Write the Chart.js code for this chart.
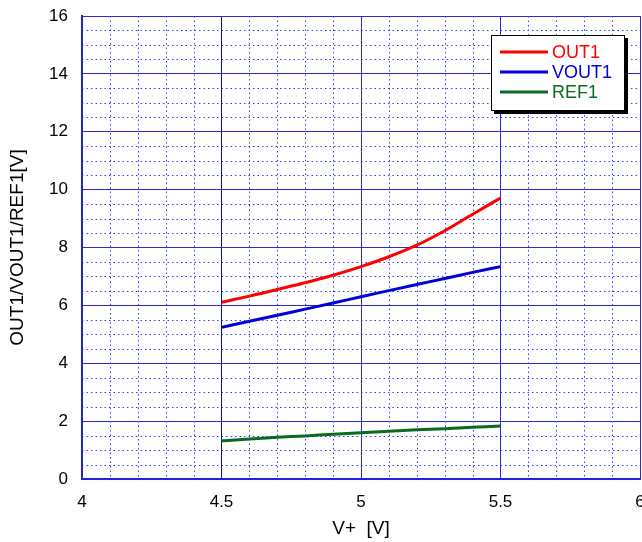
<!DOCTYPE html>
<html>
<head>
<meta charset="utf-8">
<script src="https://cdn.jsdelivr.net/npm/chart.js@4"></script>
<style>
  html, body { margin: 0; padding: 0; background: #fff; overflow: hidden; }
  #wrap { width: 642px; height: 542px; }
</style>
</head>
<body>
<div id="wrap"><canvas id="chart" width="642" height="542"></canvas></div>
<script>
// V+ sweep and the three outputs
const vPlus = [4.5, 4.6, 4.7, 4.8, 4.9, 5.0, 5.1, 5.2, 5.3, 5.4, 5.5];
const out1  = [6.11, 6.32, 6.55, 6.78, 7.04, 7.34, 7.68, 8.08, 8.58, 9.15, 9.71];
const vout1 = [5.24, 5.45, 5.66, 5.87, 6.08, 6.30, 6.51, 6.72, 6.93, 7.14, 7.34];
const ref1  = [1.32, 1.38, 1.44, 1.49, 1.55, 1.60, 1.65, 1.70, 1.74, 1.79, 1.83];

const seriesNames = ['OUT1', 'VOUT1', 'REF1'];
const seriesColors = ['#ff0000', '#0000d8', '#0b6a1e'];

const FONT = 'Liberation Sans, Arial, sans-serif';

function toPoints(ys) {
  return vPlus.map((x, i) => ({ x: x, y: ys[i] }));
}

// dotted minor grid (0.1 V in x, 0.5 V in y)
const minorGrid = {
  id: 'minorGrid',
  beforeDatasetsDraw(chart) {
    const { ctx, chartArea: a, scales: { x, y } } = chart;
    ctx.save();
    ctx.strokeStyle = '#3a3aee';
    ctx.lineWidth = 1;
    ctx.setLineDash([1.5, 3]);
    for (let i = 1; i < 20; i++) {
      if (i % 5 === 0) continue;
      const px = Math.round(x.getPixelForValue(4 + i / 10)) + 0.5;
      ctx.beginPath();
      ctx.moveTo(px, a.top);
      ctx.lineTo(px, a.bottom);
      ctx.stroke();
    }
    for (let j = 1; j < 32; j++) {
      if (j % 4 === 0) continue;
      const py = Math.round(y.getPixelForValue(j / 2)) + 0.5;
      ctx.beginPath();
      ctx.moveTo(a.left, py);
      ctx.lineTo(a.right, py);
      ctx.stroke();
    }
    ctx.restore();
  }
};

// boxed legend with drop shadow, text in series colour
const boxLegend = {
  id: 'boxLegend',
  afterDatasetsDraw(chart) {
    const { ctx, chartArea: a } = chart;
    const w = 134, h = 76;
    const bx = a.right - 15 - w, by = a.top + 19;
    ctx.save();
    ctx.fillStyle = '#000';
    ctx.fillRect(bx + 3, by + 3, w, h);
    ctx.fillStyle = '#fff';
    ctx.fillRect(bx, by, w, h);
    ctx.strokeStyle = '#000';
    ctx.lineWidth = 1;
    ctx.strokeRect(bx + 0.5, by + 0.5, w - 1, h - 1);
    ctx.font = '18px ' + FONT;
    ctx.textBaseline = 'middle';
    chart.data.datasets.forEach((ds, i) => {
      const ly = by + 17 + i * 20;
      ctx.strokeStyle = ds.borderColor;
      ctx.lineWidth = 3;
      ctx.beginPath();
      ctx.moveTo(bx + 9, ly);
      ctx.lineTo(bx + 57, ly);
      ctx.stroke();
      ctx.fillStyle = ds.borderColor;
      ctx.fillText(ds.label, bx + 61, ly + 1);
    });
    ctx.restore();
  }
};

new Chart(document.getElementById('chart').getContext('2d'), {
  type: 'scatter',
  data: {
    datasets: [out1, vout1, ref1].map((ys, i) => ({
      label: seriesNames[i],
      data: toPoints(ys),
      showLine: true,
      borderColor: seriesColors[i],
      backgroundColor: seriesColors[i],
      borderWidth: 3,
      pointRadius: 0,
      cubicInterpolationMode: 'monotone'
    }))
  },
  options: {
    responsive: false,
    animation: false,
    layout: { padding: { top: 16, right: 2, left: 0, bottom: 0 } },
    plugins: {
      legend: { display: false },
      tooltip: { enabled: false }
    },
    scales: {
      x: {
        type: 'linear',
        min: 4,
        max: 6,
        ticks: {
          stepSize: 0.5,
          color: '#000',
          padding: 13,
          font: { family: FONT, size: 17 },
          callback: (v) => String(Number(v.toFixed(1)))
        },
        grid: {
          color: (c) => c.tick && c.tick.value === 4.5 ? '#10108a' : '#2a2ad0',
          lineWidth: 1,
          drawTicks: false
        },
        border: { color: '#2222dd', width: 2 },
        title: {
          display: true,
          text: 'V+  [V]',
          color: '#000',
          font: { family: FONT, size: 19 },
          padding: { top: 0, bottom: 2 }
        },
        afterFit(s) { s.height = 63; s.paddingLeft = 0; s.paddingRight = 0; }
      },
      y: {
        type: 'linear',
        min: 0,
        max: 16,
        ticks: {
          stepSize: 2,
          color: '#000',
          padding: 14,
          font: { family: FONT, size: 17 }
        },
        grid: {
          color: '#2a2ad0',
          lineWidth: 1,
          drawTicks: false
        },
        border: { color: '#2222dd', width: 2 },
        title: {
          display: true,
          text: 'OUT1/VOUT1/REF1[V]',
          color: '#000',
          font: { family: FONT, size: 19 },
          padding: { top: 6, bottom: 0 }
        },
        afterFit(s) { s.width = 82; s.paddingTop = 0; s.paddingBottom = 0; }
      }
    }
  },
  plugins: [minorGrid, boxLegend]
});
</script>
</body>
</html>
